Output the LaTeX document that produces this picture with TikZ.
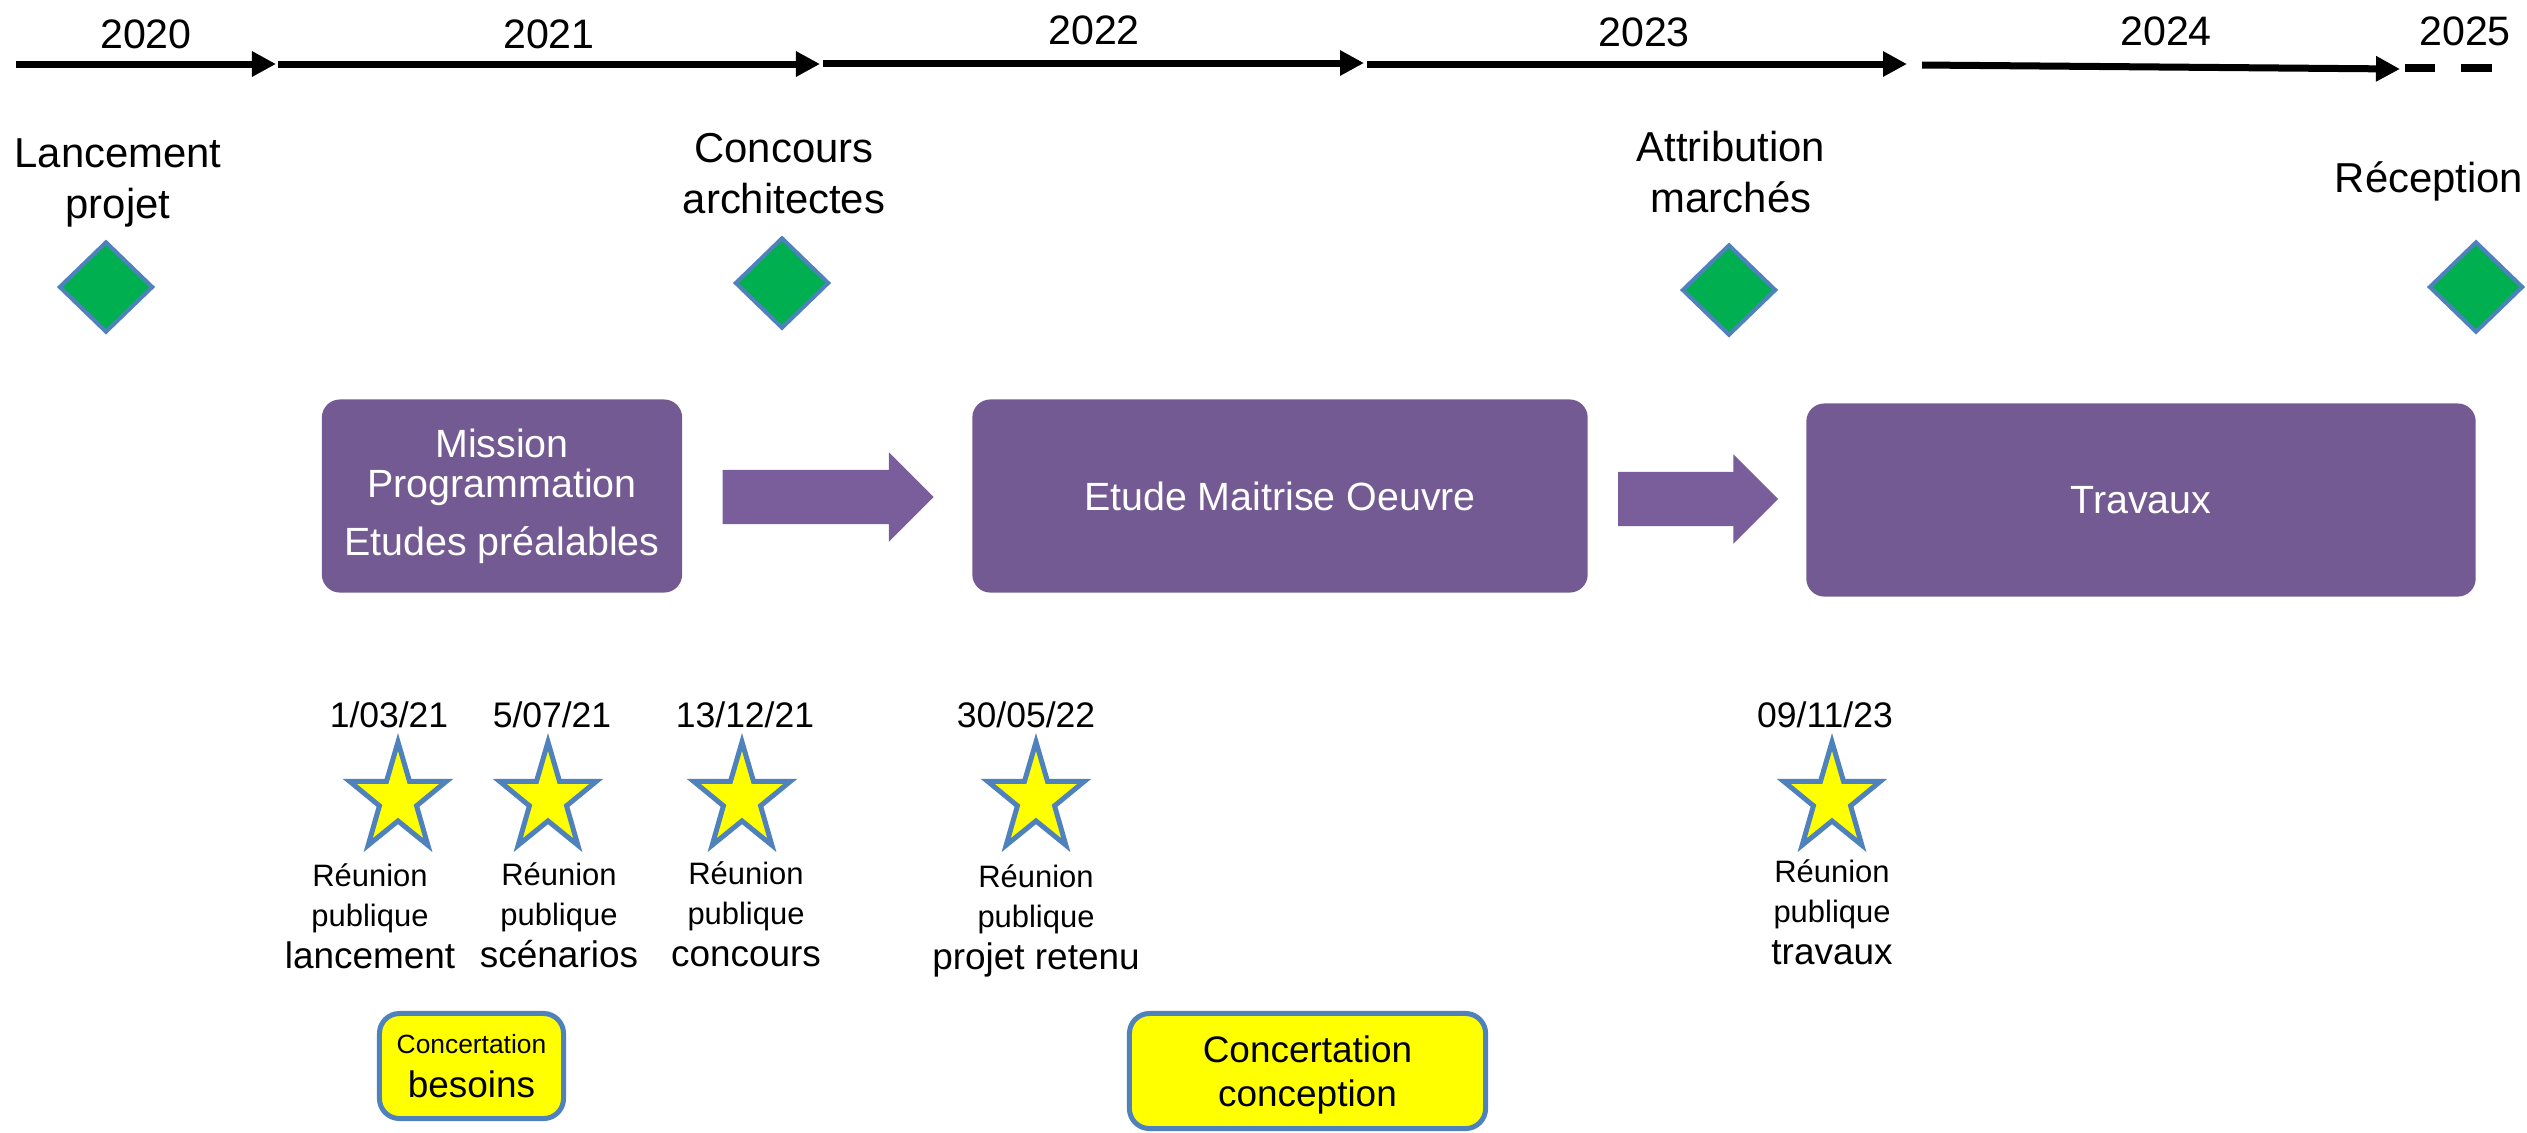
\documentclass[tikz,border=0pt]{standalone}
\usepackage{fontspec}
\setmainfont{Liberation Sans}
\usetikzlibrary{arrows.meta,shapes.geometric,shapes.arrows,calc}

\definecolor{prune}{RGB}{115,90,146}
\definecolor{prunefleche}{RGB}{122,94,155}
\definecolor{bordbleu}{RGB}{79,129,189}
\definecolor{vertjalon}{RGB}{0,176,80}
\definecolor{jaunevif}{RGB}{255,255,0}

\newcommand{\fsize}[2]{\fontsize{#1}{#2}\selectfont}

\begin{document}
\begin{tikzpicture}[x=0.01cm, y=-0.01cm,
    annee/.style={line width=0.07cm, -{Triangle[length=0.24cm, width=0.24cm]}},
    pointille/.style={line width=0.075cm},
    anneetxt/.style={inner sep=0, anchor=base, font=\fsize{11.7}{14}},
    jalon/.style={diamond, draw=bordbleu, line width=0.04cm, fill=vertjalon, inner sep=0, minimum width=0.94cm, minimum height=0.91cm},
    jalontxt/.style={inner sep=0, anchor=base, align=center, font=\fsize{11.9}{14.5}},
    phase/.style={rectangle, rounded corners=0.18cm, fill=prune, text=white, align=center, inner sep=0, minimum height=1.93cm, font=\fsize{11.2}{11.4}},
    flechebloc/.style={single arrow, fill=prunefleche, inner xsep=0, inner ysep=0.265cm, single arrow head extend=0.175cm, anchor=tail},
    etoile/.style={star, star points=5, star point ratio=2.6, minimum size=1.14cm, inner sep=0, draw=bordbleu, fill=jaunevif, line width=0.05cm, xscale=0.89, transform shape},
    datetxt/.style={inner sep=0, anchor=base, font=\fsize{10.1}{12}},
    reuniontxt/.style={inner sep=0, anchor=base, align=center, font=\fsize{8.8}{11.1}},
    objettxt/.style={inner sep=0, anchor=base, font=\fsize{10.5}{12.5}},
    concert/.style={rectangle, rounded corners=0.2cm, draw=bordbleu, line width=0.05cm, fill=jaunevif, align=center, inner sep=0, font=\fsize{10.5}{12.5}}]
    \useasboundingbox (0,0) rectangle (2527,1132);

    % Timeline
    \coordinate (d0) at (16,64);   \coordinate (f0) at (276,64);
    \coordinate (d1) at (278,64);  \coordinate (f1) at (820,64);
    \coordinate (d2) at (823,63);  \coordinate (f2) at (1364,63);
    \coordinate (d3) at (1367,64); \coordinate (f3) at (1907,64);
    \coordinate (d4) at (1922,65); \coordinate (f4) at (2400,69);
    \foreach \i in {0,...,4}
    {
      \draw[annee] (d\i) -- (f\i);
    };
    \coordinate (e0) at (2405,68); \coordinate (e1) at (2435,68);
    \coordinate (e2) at (2461,68); \coordinate (e3) at (2492,68);
    \draw[pointille] (e0) -- (e1);
    \draw[pointille] (e2) -- (e3);

    \foreach \an/\xpos/\ypos in {2020/146/48, 2021/549/48, 2022/1094/44, 2023/1644/46, 2024/2166/45, 2025/2465/45}
    {
      \node[anneetxt] (y\an) at (\xpos,\ypos) {\an};
    };

    % Milestones
    \foreach \nom/\xpos/\ypos in {lancement/106/287, concours/782/283, attribution/1729/290, reception/2476/287}
    {
      \node[jalon] (j\nom) at (\xpos,\ypos) {};
    };
    \node[jalontxt] (lancement) at (118,218) {Lancement\\projet};
    \node[jalontxt] (concours) at (784,213) {Concours\\architectes};
    \node[jalontxt] (attribution) at (1731,212) {Attribution\\marchés};
    \node[jalontxt] (reception) at (2429,192) {Réception};

    % Phases
    \node[phase, minimum width=3.6cm] (mission) at (502,496) {Mission\\Programmation\\[0.18cm]Etudes préalables};
    \node[phase, minimum width=6.15cm] (maitrise) at (1280,496) {Etude Maitrise Oeuvre};
    \node[phase, minimum width=6.69cm] (travaux) at (2141,500) {Travaux};
    \node[flechebloc, minimum height=2.11cm] (fl1) at ($(mission.east)+(39,1)$) {};
    \node[flechebloc, minimum height=1.60cm] (fl2) at ($(maitrise.east)+(29,3)$) {};

    % Public meetings
    \foreach \i/\xs/\xd/\xl/\yl/\quand/\quoi in {1/398/389/370/926/{1/03/21}/lancement, 2/548/552/559/925/{5/07/21}/scénarios, 3/742/745/746/924/{13/12/21}/concours, 4/1036/1026/1036/927/{30/05/22}/projet retenu, 5/1832/1825/1832/922/{09/11/23}/travaux}
    {
      \node[datetxt] (date\i) at (\xd,727) {\quand};
      \node[etoile] (s\i) at (\xs,799) {};
      \node[reuniontxt] (reu\i) at (\xl,\yl) {Réunion\\publique};
      \node[objettxt] (obj\i) at (\xl,\yl+42) {\quoi};
    };

    % Concertation
    \node[concert, minimum width=1.84cm, minimum height=1.05cm] (besoins) at (471.5,1066) {{\fsize{7.5}{9}Concertation}\\{\fsize{10.5}{11.4}besoins}};
    \node[concert, minimum width=3.56cm, minimum height=1.15cm, text depth=0cm] (conception) at (1307.5,1071) {Concertation\\conception};

\end{tikzpicture}
\end{document}
